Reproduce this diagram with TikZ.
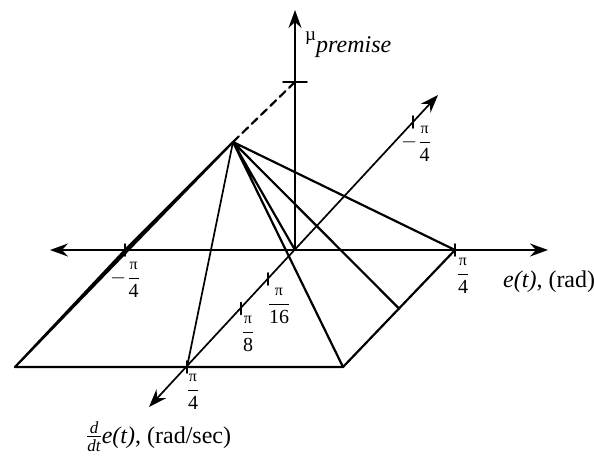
\documentclass[tikz,border=0pt]{standalone}
\usepackage{amsmath}
\usepackage{fontspec}
\setmainfont{Liberation Serif}
\usetikzlibrary{arrows.meta}
\newcommand{\pifrac}[1]{$\genfrac{}{}{1pt}{0}{\mbox{\fontsize{16}{16}\selectfont π}}{\mbox{#1}}$}
\newcommand{\negpifrac}[1]{$-\mkern1mu\genfrac{}{}{1pt}{0}{\mbox{\fontsize{16}{16}\selectfont π}}{\mbox{#1}}$}
\newcommand{\ddt}{$\genfrac{}{}{0.9pt}{}{\mbox{\fontsize{17}{17}\selectfont\itshape d}}{\mbox{\fontsize{17}{17}\selectfont\itshape dt}}$}
\begin{document}
\begin{tikzpicture}[x=1pt, y=-1pt, line join=round, line cap=round,
  >={Stealth[length=18pt,width=13pt,inset=6pt]}, font=\fontsize{20}{24}\selectfont,
  axis/.style={line width=1.7pt}, edge/.style={line width=2.2pt},
  tick/.style={line width=1.8pt}, lbl/.style={inner sep=0pt},
  big/.style={font=\fontsize{24}{28}\selectfont}]
\useasboundingbox (0,0) rectangle (594,456);
%Các điểm
\coordinate (O) at (295,250);
\coordinate (Eleft) at (50,250);
\coordinate (Eright) at (548,250);
\coordinate (Mtop) at (295,10);
\coordinate (Dlow) at (149,407);
\coordinate (Dup) at (438,95);
\coordinate (Em) at (125,250);
\coordinate (Ep) at (455,250);
\coordinate (Dp4) at (187,367);
\coordinate (Dp8) at (241,308.5);
\coordinate (Dp16) at (268,279);
\coordinate (Dm4) at (413,122);
\coordinate (M1) at (295,82);
\coordinate (A) at (233,142);
\coordinate (BL) at (15,367);
\coordinate (BR) at (343,367);
\coordinate (Mid) at (399,308.5);
%Vẽ trục
\draw[axis,<->] (Eleft) -- (Eright);
\draw[axis,->] (O) -- (Mtop);
\draw[axis,<->] (Dlow) -- (Dup);
\foreach \p in {Em,Ep,Dp4,Dp8,Dp16,Dm4}
\draw[tick] ([yshift=6pt]\p) -- ([yshift=-6pt]\p);
\draw[tick] ([xshift=-12pt]M1) -- ([xshift=12pt]M1);
%Vẽ hình chóp
\draw[edge] (BL) -- (BR) -- (Ep);
\draw[edge] (A) -- (BL) (A) -- (Em) -- (BL) (A) -- (BR) (A) -- (O)
(A) -- (Mid) (A) -- (Ep);
\draw[axis] (A) -- (Dp4);
\draw[edge,dash pattern=on 8pt off 5pt] (A) -- (M1);
%Nhãn
\node[lbl] (lEp) at (463,276) {\pifrac{4}};
\node[lbl] (lEm) at (125,280) {\negpifrac{4}};
\node[lbl] (lD16) at (279,306) {\pifrac{16}};
\node[lbl] (lD8) at (248,334) {\pifrac{8}};
\node[lbl] (lD4) at (193,392) {\pifrac{4}};
\node[lbl] (lDm4) at (416,144) {\negpifrac{4}};
\node[lbl,big,anchor=base west] (lE) at (503,287) {\textit{e(t)}, (rad)};
\node[lbl,big,anchor=base west] (lD) at (86,443) {\ddt\textit{e(t)}, (rad/sec)};
\node[lbl,big,anchor=base west] (lMu) at (305,40) {{\fontsize{19}{19}\selectfont µ}\raisebox{-12pt}{\textit{premise}}};
\end{tikzpicture}
\end{document}
